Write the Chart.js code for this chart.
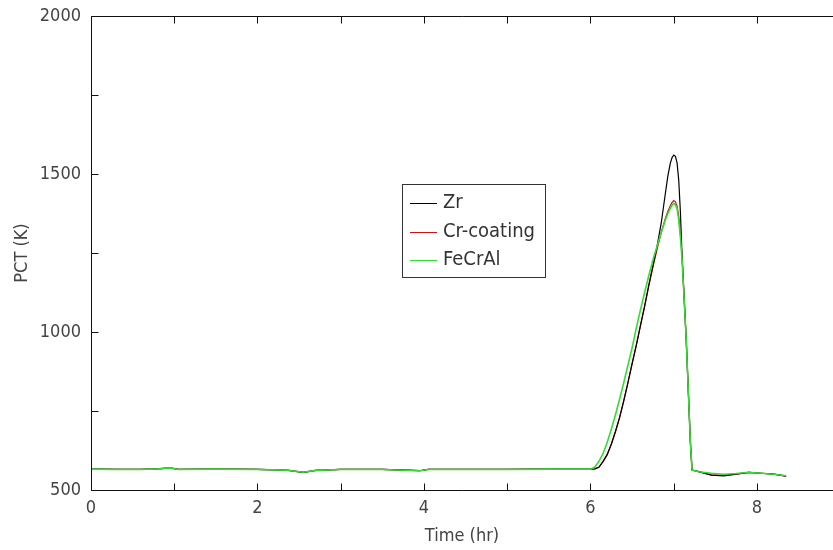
<!DOCTYPE html>
<html>
<head>
<meta charset="utf-8">
<script src="https://cdn.jsdelivr.net/npm/chart.js@4.4.1/dist/chart.umd.min.js"></script>
<style>
  html, body { margin: 0; padding: 0; background: #fff; overflow: hidden; }
  #wrap { width: 833px; height: 550px; position: relative; }
</style>
</head>
<body>
<div id="wrap"><canvas id="pctChart"></canvas></div>
<script>
// time in hours, shared by all three cladding cases
const tHr = [0, 0.3, 0.6, 0.8, 0.95, 1.05, 1.5, 2.0, 2.35, 2.55, 2.7, 3.0, 3.5, 3.95, 4.05, 4.5, 5.0, 5.5, 5.9,
    6.0, 6.05, 6.1, 6.15, 6.2, 6.25, 6.3, 6.35, 6.4, 6.45, 6.5, 6.55, 6.6, 6.65, 6.7, 6.75, 6.8, 6.85, 6.9, 6.93,
    6.96, 6.98, 7.0, 7.02, 7.04, 7.06, 7.08, 7.1, 7.15, 7.2, 7.22, 7.3, 7.45, 7.6, 7.75, 7.9, 8.05, 8.2, 8.35];

// peak cladding temperature (K)
const pctZr = [566, 565, 565, 567, 570, 565, 566, 565, 563, 556, 562, 565, 565, 561, 565, 565, 565, 566, 566,
    566, 567, 572, 590, 612, 645, 685, 730, 783, 840, 900, 958, 1020, 1082, 1148, 1210, 1272, 1345, 1440, 1495,
    1535, 1552, 1560, 1556, 1535, 1480, 1380, 1240, 975, 650, 563, 558, 547, 545, 550, 556, 553, 550, 544];
const pctCr = [566, 565, 565, 567, 570, 565, 566, 565, 563, 556, 562, 565, 565, 561, 565, 565, 565, 566, 566,
    566, 567, 572, 590, 612, 645, 685, 730, 783, 840, 900, 958, 1020, 1080, 1145, 1205, 1262, 1315, 1360, 1382,
    1400, 1410, 1416, 1412, 1398, 1365, 1310, 1240, 975, 650, 563, 558, 548, 546, 550, 556, 553, 550, 544];
const pctFeCrAl = [566, 565, 565, 567, 570, 565, 566, 565, 563, 556, 562, 565, 565, 561, 565, 565, 565, 566, 566,
    566, 572, 590, 615, 650, 692, 738, 788, 840, 895, 950, 1012, 1070, 1125, 1178, 1228, 1272, 1315, 1355, 1375,
    1392, 1401, 1407, 1403, 1390, 1355, 1300, 1230, 975, 650, 563, 558, 553, 550, 552, 556, 553, 550, 545];

const seriesNames = ['Zr', 'Cr-coating', 'FeCrAl'];
const seriesColors = ['#000000', '#cc1111', '#33dd33'];

const xTicks = [0, 1, 2, 3, 4, 5, 6, 7, 8];
const yTicks = [500, 750, 1000, 1250, 1500, 1750, 2000];

const FONT = "'DejaVu Sans Condensed', 'DejaVu Sans', sans-serif";

function pts(vals) {
    return tHr.map((t, i) => ({x: t, y: vals[i]}));
}

// frame with inward ticks plus the boxed legend
const framePlugin = {
    id: 'frame',
    afterDraw(chart) {
        const ctx = chart.ctx;
        const a = chart.chartArea;
        const xs = chart.scales.x, ys = chart.scales.y;
        const L = Math.round(a.left) + 0.5, T = Math.round(a.top) + 0.5, B = Math.round(a.bottom) + 0.5;
        ctx.save();
        ctx.strokeStyle = '#111';
        ctx.lineWidth = 1;
        ctx.beginPath();
        ctx.moveTo(chart.width, T); ctx.lineTo(L, T); ctx.lineTo(L, B); ctx.lineTo(chart.width, B);
        xTicks.forEach(v => {
            const px = Math.round(xs.getPixelForValue(v)) + 0.5;
            ctx.moveTo(px, B); ctx.lineTo(px, B - 7);
            ctx.moveTo(px, T); ctx.lineTo(px, T + 7);
        });
        yTicks.forEach(v => {
            const py = Math.round(ys.getPixelForValue(v)) + 0.5;
            ctx.moveTo(L, py); ctx.lineTo(L + 7, py);
        });
        ctx.stroke();

        // legend
        const bx = 402.5, by = 184.5, bw = 143, bh = 93;
        ctx.fillStyle = '#fff';
        ctx.fillRect(bx, by, bw, bh);
        ctx.strokeStyle = '#333';
        ctx.strokeRect(bx, by, bw, bh);
        ctx.font = '20px ' + FONT;
        ctx.textBaseline = 'middle';
        seriesNames.forEach((name, i) => {
            const y = 203 + i * 28.5;
            ctx.strokeStyle = seriesColors[i];
            ctx.beginPath();
            ctx.moveTo(410, Math.round(y) + 0.5);
            ctx.lineTo(437, Math.round(y) + 0.5);
            ctx.stroke();
            ctx.fillStyle = '#333';
            ctx.fillText(name, 443, y);
        });
        ctx.restore();
    }
};

const config = {
    type: 'line',
    data: {
        datasets: [{
            label: seriesNames[0],
            data: pts(pctZr),
            borderColor: seriesColors[0],
            borderWidth: 1.2,
            order: 1
        }, {
            label: seriesNames[1],
            data: pts(pctCr),
            borderColor: seriesColors[1],
            borderWidth: 1.2,
            order: 2
        }, {
            label: seriesNames[2],
            data: pts(pctFeCrAl),
            borderColor: seriesColors[2],
            borderWidth: 1.6,
            order: 0
        }]
    },
    options: {
        responsive: true,
        maintainAspectRatio: false,
        animation: false,
        datasets: {
            line: {pointRadius: 0, tension: 0, fill: false}
        },
        layout: {padding: {top: 16, right: 0, left: 0, bottom: 0}},
        plugins: {legend: {display: false}, tooltip: {enabled: false}},
        scales: {
            x: {
                type: 'linear',
                min: 0,
                max: 8.913,
                afterBuildTicks: s => { s.ticks = xTicks.map(v => ({value: v})); },
                afterFit: s => { s.height = 60; s.paddingLeft = 0; s.paddingRight = 0; },
                grid: {display: false, drawTicks: false},
                border: {display: false},
                ticks: {
                    padding: 8,
                    color: '#444',
                    font: {family: FONT, size: 18},
                    maxRotation: 0,
                    callback: v => (v % 2 === 0 ? String(v) : '')
                },
                title: {
                    display: true,
                    text: 'Time (hr)',
                    color: '#444',
                    font: {family: FONT, size: 18},
                    padding: {top: 0, bottom: 3}
                }
            },
            y: {
                min: 500,
                max: 2000,
                afterBuildTicks: s => { s.ticks = yTicks.map(v => ({value: v})); },
                afterFit: s => { s.width = 91; s.paddingTop = 0; s.paddingBottom = 0; },
                grid: {display: false, drawTicks: false},
                border: {display: false},
                ticks: {
                    padding: 10,
                    color: '#444',
                    font: {family: FONT, size: 18},
                    callback: v => (v % 500 === 0 ? String(v) : '')
                },
                title: {
                    display: true,
                    text: 'PCT (K)',
                    color: '#444',
                    font: {family: FONT, size: 18},
                    padding: {top: 12, bottom: 0}
                }
            }
        }
    },
    plugins: [framePlugin]
};

window.addEventListener('load', function () {
    new Chart(document.getElementById('pctChart').getContext('2d'), config);
});
</script>
</body>
</html>
